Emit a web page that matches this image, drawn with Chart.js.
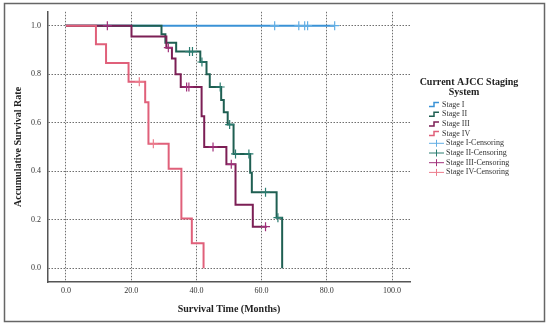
<!DOCTYPE html>
<html>
<head>
<meta charset="utf-8">
<script src="https://cdn.jsdelivr.net/npm/chart.js@4.4.0/dist/chart.umd.min.js"></script>
<style>
html, body { margin: 0; padding: 0; background: #fff; }
</style>
</head>
<body>
<canvas id="myChart_km" width="550" height="328"></canvas>
<script>
/* Data: survival steps (months, rate) */
var stage1Time = [0, 82.4];
var stage1Surv = [1, 1];
var stage1CensorTime = [64.0, 71.4, 73.2, 74.1, 82.4];
var stage1CensorSurv = [1, 1, 1, 1, 1];

var stage2Time = [0, 29.3, 30.5, 33.8, 41.2, 43.1, 44.1, 47.6, 48.4, 49.6, 51.4, 56.5, 57.0, 64.6, 66.3];
var stage2Surv = [1, 0.964, 0.929, 0.893, 0.85, 0.80, 0.747, 0.693, 0.643, 0.592, 0.471, 0.393, 0.313, 0.208, 0];
var stage2CensorTime = [37.9, 38.8, 41.7, 47.3, 50.2, 52.0, 56.1, 61.2, 65.0];
var stage2CensorSurv = [0.893, 0.893, 0.85, 0.747, 0.592, 0.471, 0.471, 0.313, 0.208];

var stage3Time = [0, 20.1, 30.8, 32.5, 33.6, 35.2, 41.6, 42.4, 49.2, 52.0, 57.3, 61.6];
var stage3Surv = [1, 0.955, 0.909, 0.864, 0.80, 0.747, 0.626, 0.50, 0.428, 0.262, 0.171, 0.171];
var stage3CensorTime = [12.7, 31.4, 37.0, 37.7, 45.1, 50.7, 61.2];
var stage3CensorSurv = [1, 0.909, 0.747, 0.747, 0.50, 0.428, 0.171];

var stage4Time = [0, 9.2, 12.3, 19.2, 24.3, 25.3, 31.5, 35.4, 38.6, 42.2];
var stage4Surv = [1, 0.923, 0.846, 0.769, 0.684, 0.513, 0.410, 0.205, 0.103, 0];
var stage4CensorTime = [22.5, 26.8];
var stage4CensorSurv = [0.769, 0.513];

var xTicks = [0, 20, 40, 60, 80, 100];
var yTicks = [0, 0.2, 0.4, 0.6, 0.8, 1.0];

var legendTitle = ['Current AJCC Staging', 'System'];
var legendLabels = ['Stage I', 'Stage II', 'Stage III', 'Stage IV',
    'Stage I-Censoring', 'Stage II-Censoring', 'Stage III-Censoring', 'Stage IV-Censoring'];

var lineColors = ['#3a92d6', '#1f5f52', '#7c1f55', '#e0607a'];
var censorColors = ['#62aee4', '#2b7c70', '#a0307a', '#ec7c8c'];

function toPoints(xs, ys) {
    var pts = [];
    for (let i = 0; i < xs.length; i++) {
        pts.push({x: xs[i], y: ys[i]});
    }
    return pts;
}

var serif = "'Liberation Serif', 'DejaVu Serif', serif";

/* Frame + legend drawn on canvas */
const framePlugin = {
    id: 'frame',
    beforeDraw(chart) {
        var ctx = chart.ctx;
        ctx.save();
        ctx.fillStyle = '#fff';
        ctx.fillRect(0, 0, chart.width, chart.height);
        ctx.restore();
    },
    afterDraw(chart) {
        var ctx = chart.ctx;
        ctx.save();
        ctx.strokeStyle = '#666';
        ctx.lineWidth = 1.5;
        ctx.strokeRect(4.5, 3.5, 540, 318);

        /* legend title */
        ctx.fillStyle = '#222';
        ctx.font = 'bold 10px ' + serif;
        ctx.textAlign = 'center';
        ctx.textBaseline = 'middle';
        ctx.fillText(legendTitle[0], 469, 82);
        ctx.fillText(legendTitle[1], 464, 92.5);

        /* legend items */
        ctx.font = '8px ' + serif;
        ctx.textAlign = 'left';
        for (let i = 0; i < legendLabels.length; i++) {
            var y = 104.5 + i * 9.7;
            ctx.lineWidth = 1.5;
            if (i < 4) {
                ctx.strokeStyle = lineColors[i];
                ctx.beginPath();
                ctx.moveTo(429, y + 2);
                ctx.lineTo(434, y + 2);
                ctx.lineTo(434, y - 2);
                ctx.lineTo(439, y - 2);
                ctx.stroke();
                ctx.fillStyle = '#333';
                ctx.fillText(legendLabels[i], 442, y);
            } else {
                ctx.strokeStyle = censorColors[i - 4];
                ctx.lineWidth = 1;
                ctx.beginPath();
                ctx.moveTo(429, y);
                ctx.lineTo(444, y);
                ctx.moveTo(436.5, y - 3.5);
                ctx.lineTo(436.5, y + 3.5);
                ctx.stroke();
                ctx.fillStyle = '#333';
                ctx.fillText(legendLabels[i], 446, y);
            }
        }
        ctx.restore();
    }
};

var curveSets = [
    [stage1Time, stage1Surv, stage1CensorTime, stage1CensorSurv],
    [stage2Time, stage2Surv, stage2CensorTime, stage2CensorSurv],
    [stage3Time, stage3Surv, stage3CensorTime, stage3CensorSurv],
    [stage4Time, stage4Surv, stage4CensorTime, stage4CensorSurv]
];

var datasets = [];
for (let i = 0; i < curveSets.length; i++) {
    datasets.push({
        label: legendLabels[i],
        type: 'line',
        data: toPoints(curveSets[i][0], curveSets[i][1]),
        stepped: true,
        borderColor: lineColors[i],
        borderWidth: 2,
        pointRadius: 0,
        fill: false,
        order: 5 - i
    });
}
for (let i = 0; i < curveSets.length; i++) {
    datasets.push({
        label: legendLabels[i + 4],
        type: 'line',
        data: toPoints(curveSets[i][2], curveSets[i][3]),
        showLine: false,
        pointStyle: 'cross',
        pointRadius: 4.5,
        pointBorderWidth: 1.2,
        pointBorderColor: censorColors[i],
        borderColor: censorColors[i],
        order: 0
    });
}

const config_km = {
    data: {datasets: datasets},
    options: {
        responsive: false,
        animation: false,
        events: [],
        layout: {padding: {left: 0, top: 7, right: 140, bottom: 0}},
        plugins: {legend: {display: false}, tooltip: {enabled: false}},
        scales: {
            x: {
                type: 'linear',
                min: -5.5,
                max: 105.5,
                afterFit: function(scale) { scale.height = 46; },
                afterBuildTicks: function(scale) { scale.ticks = xTicks.map(v => ({value: v})); },
                ticks: {
                    callback: v => v.toFixed(1),
                    font: {family: serif, size: 8},
                    color: '#333',
                    padding: 4
                },
                grid: {color: '#6f6f6f', lineWidth: 1, drawTicks: false},
                border: {display: true, color: '#555', width: 1.5, dash: [1.5, 1.5]},
                title: {
                    display: true,
                    text: 'Survival Time (Months)',
                    font: {family: serif, size: 10, weight: 'bold'},
                    color: '#222',
                    padding: {top: 0, bottom: 13}
                }
            },
            y: {
                type: 'linear',
                min: -0.057,
                max: 1.057,
                afterFit: function(scale) { scale.width = 48; },
                afterBuildTicks: function(scale) { scale.ticks = yTicks.map(v => ({value: v})); },
                ticks: {
                    callback: v => v.toFixed(1),
                    font: {family: serif, size: 8},
                    color: '#333',
                    padding: 7
                },
                grid: {color: '#6f6f6f', lineWidth: 1, drawTicks: false},
                border: {display: true, color: '#555', width: 1.5, dash: [1.5, 1.5]},
                title: {
                    display: true,
                    text: 'Accumulative Survival Rate',
                    font: {family: serif, size: 10, weight: 'bold'},
                    color: '#222',
                    padding: {top: 12, bottom: 0}
                }
            }
        }
    },
    plugins: [framePlugin]
};

var myChart_km = new Chart(
    document.getElementById('myChart_km'),
    config_km
);
</script>
</body>
</html>
